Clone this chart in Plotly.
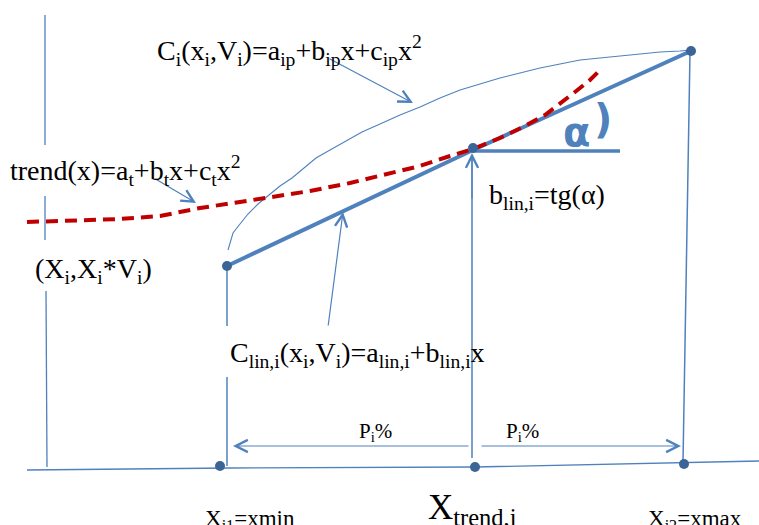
import plotly.graph_objects as go

# ---- geometry of the schematic (pixel-like units, y grows downward) ----
axis_v_x = [45, 45, None, 45, 45, None, 46, 47]
axis_v_y = [15, 145, None, 196, 240, None, 291, 467]
axis_h_x = [27, 230, 475, 759]
axis_h_y = [470, 468, 467, 461]

xmin_v_x = [227, 227, None, 227, 227]
xmin_v_y = [266, 326, None, 377, 466]
xtr_v_x = [472, 472]
xtr_v_y = [158, 458]
xmax_v_x = [690, 683]
xmax_v_y = [52, 462]

lin_x = [227, 473, 691]
lin_y = [266, 150, 51]

alpha_x = [473, 620]
alpha_y = [151, 151]

trend_x = [27, 80, 120, 160, 200, 240, 275, 310, 350, 380, 420, 450, 473, 500, 525, 545, 560, 575, 590, 598]
trend_y = [222, 220, 219, 216, 208, 202, 197, 191, 183, 176, 166, 156, 149, 138, 126, 115, 104, 92, 80, 72]

ci_x = [228, 230, 233, 240, 248, 258, 268, 280, 292, 304, 316, 330, 347, 362, 380, 400, 420, 440, 460, 480, 500, 520, 540, 560, 580, 600, 620, 640, 660, 680, 691]
ci_y = [250, 242, 233, 224, 214, 204, 196, 186, 178, 168, 158, 150, 140, 132, 124, 115, 107, 98, 90, 84, 78, 73, 68, 64, 60, 58, 56, 54, 52, 51, 50]

dots_x = [227, 473, 691, 220, 475, 684]
dots_y = [266, 148, 51, 466, 467, 464]

# arrows: (tail_x, tail_y, head_x, head_y)
arrows = [
    (328, 58, 413, 103),
    (154, 178, 196, 203),
    (328, 327, 343, 212),
    (470, 446, 233, 446),
    (480, 446, 681, 446),
    (472, 200, 472, 153),
]

# labels: (x, y, text, size)
labels = [
    (155, 50, "C<sub>i</sub>(x<sub>i</sub>,V<sub>i</sub>)=a<sub>ip</sub>+b<sub>ip</sub>x+c<sub>ip</sub>x<sup>2</sup>", 28),
    (8, 170, "trend(x)=a<sub>t</sub>+b<sub>t</sub>x+c<sub>t</sub>x<sup>2</sup>", 28),
    (33, 270, "(X<sub>i</sub>,X<sub>i</sub>*V<sub>i</sub>)", 28),
    (487, 196, "b<sub>lin,i</sub>=tg(α)", 28),
    (228, 354, "C<sub>lin,i</sub>(x<sub>i</sub>,V<sub>i</sub>)=a<sub>lin,i</sub>+b<sub>lin,i</sub>x", 28),
    (357, 432, "P<sub>i</sub>%", 21),
    (504, 432, "P<sub>i</sub>%", 21),
    (203, 520, "X<sub>i1</sub>=xmin", 23),
    (426, 509, "X<sub>trend,i</sub>", 35),
    (646, 520, "X<sub>i2</sub>=xmax", 23),
]

# handwritten alpha mark: (x, y, text, size)
alpha_marks = [
    (576, 132, "α", 40),
    (603, 119, ")", 40),
]

BLUE = "#4F81BD"
DOT = "#3A6596"
RED = "#C00000"

fig = go.Figure()

def line(x, y, width, color=BLUE, dash=None):
    fig.add_trace(go.Scatter(x=x, y=y, mode="lines",
                             line=dict(color=color, width=width, dash=dash),
                             hoverinfo="skip", showlegend=False))

line(axis_v_x, axis_v_y, 1.3)
line(axis_h_x, axis_h_y, 1.3)
line(xmin_v_x, xmin_v_y, 1.5)
line(xtr_v_x, xtr_v_y, 1.5)
line(xmax_v_x, xmax_v_y, 1.5)
line(ci_x, ci_y, 1.1)
line(lin_x, lin_y, 4)
line(alpha_x, alpha_y, 3.5)
line(trend_x, trend_y, 4, RED, "12px,7px")

fig.add_trace(go.Scatter(x=dots_x, y=dots_y, mode="markers",
                         marker=dict(color=DOT, size=10),
                         hoverinfo="skip", showlegend=False))

for tx, ty, hx, hy in arrows:
    fig.add_annotation(x=hx, y=hy, ax=tx, ay=ty, xref="x", yref="y",
                       axref="x", ayref="y", text="", showarrow=True,
                       arrowhead=5, arrowsize=2, arrowwidth=1.2,
                       arrowcolor=BLUE)

for x, y, t, s in labels:
    fig.add_annotation(x=x, y=y, xref="x", yref="y", text=t, showarrow=False,
                       xanchor="left", yanchor="middle",
                       font=dict(family="Liberation Serif", size=s, color="black"))

for x, y, t, s in alpha_marks:
    fig.add_annotation(x=x, y=y, xref="x", yref="y", text="<b>" + t + "</b>",
                       showarrow=False, xanchor="center", yanchor="middle",
                       font=dict(family="DejaVu Sans", size=s, color=BLUE))

fig.update_layout(
    width=759, height=525,
    margin=dict(l=0, r=0, t=0, b=0),
    paper_bgcolor="white", plot_bgcolor="white",
    xaxis=dict(range=[0, 759], visible=False, fixedrange=True),
    yaxis=dict(range=[525, 0], visible=False, fixedrange=True),
)

fig.write_html("out.html", config={"displayModeBar": False},
               post_script="document.body.style.margin='0px';")
